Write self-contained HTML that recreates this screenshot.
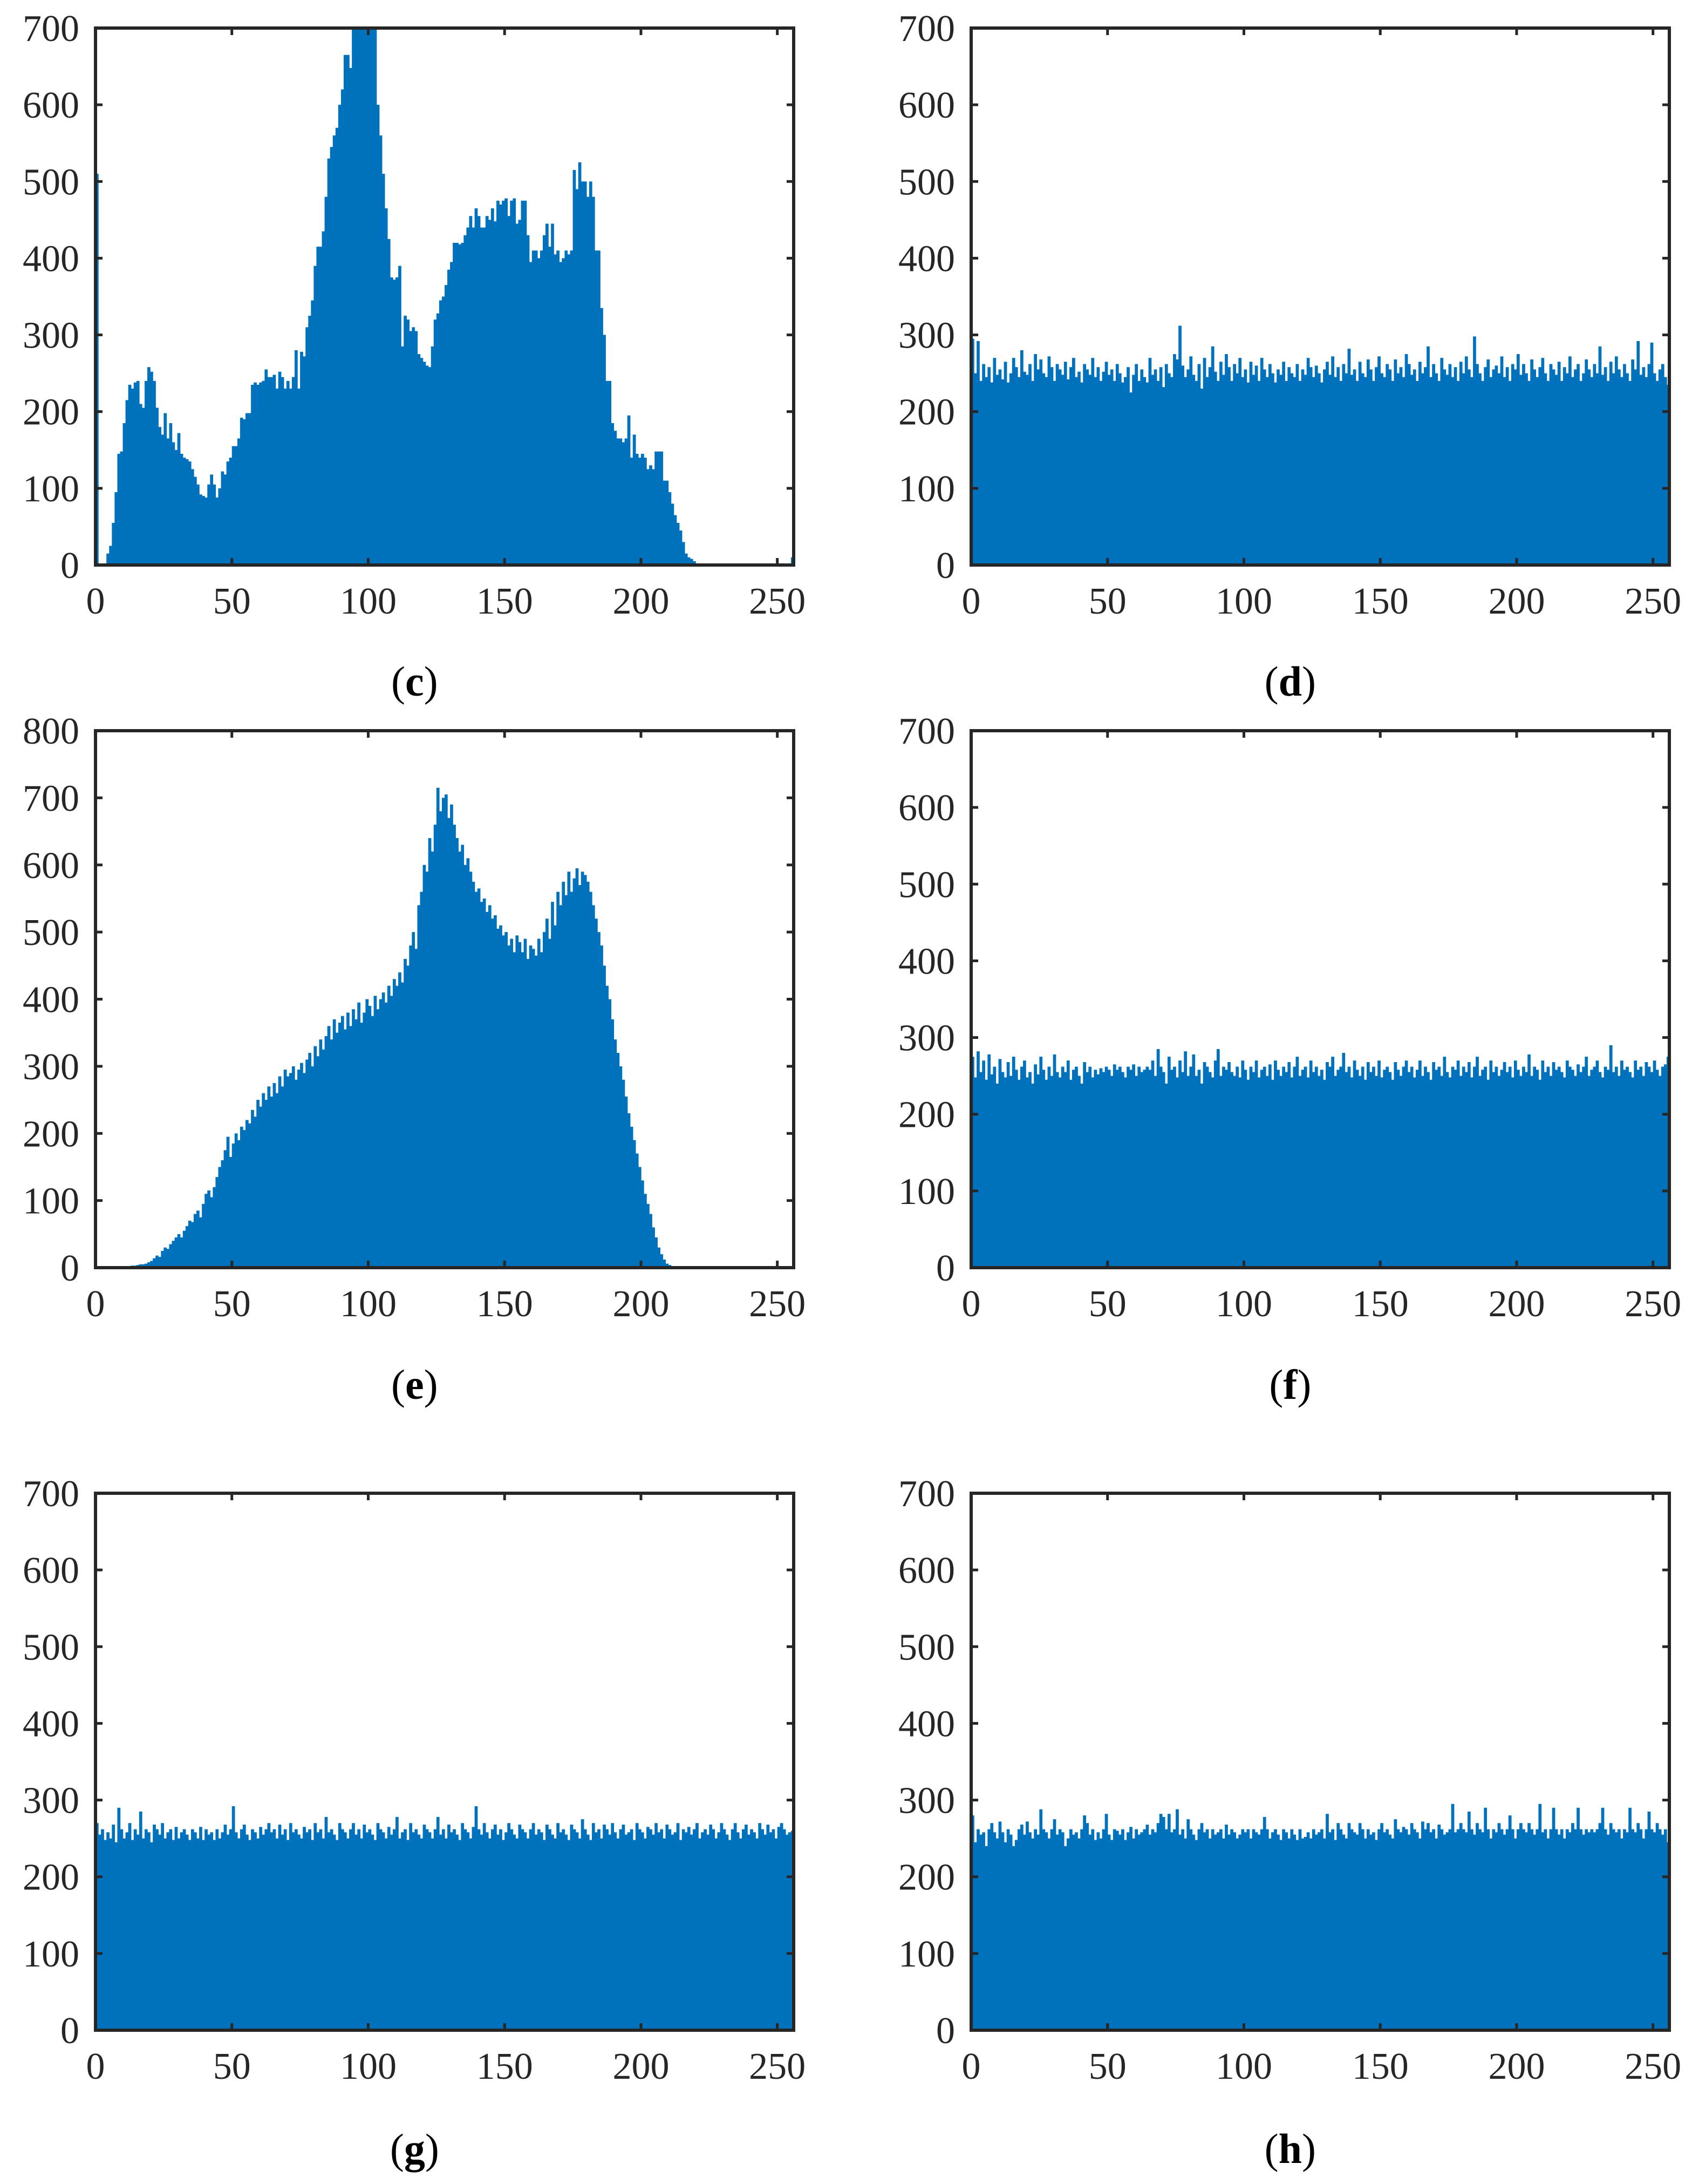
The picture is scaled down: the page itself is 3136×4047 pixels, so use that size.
<!DOCTYPE html>
<html><head><meta charset="utf-8"><style>
html,body{margin:0;padding:0;background:#fff}
svg{display:block}
</style></head><body>
<svg id="fig" width="3136" height="4047" viewBox="0 0 3136 4047" xmlns="http://www.w3.org/2000/svg"></svg>
<script>
const xTicks = [0, 50, 100, 150, 200, 250];
const yTicks700 = [0, 100, 200, 300, 400, 500, 600, 700];
const yTicks800 = [0, 100, 200, 300, 400, 500, 600, 700, 800];
const panelLetters = ["c", "d", "e", "f", "g", "h"];

const countsC = [510,0,0,0,15,25,55,95,145,148,
185,215,235,230,238,240,210,205,240,258,
252,240,205,180,170,198,165,185,160,150,
172,145,140,138,135,125,115,105,92,90,
88,105,118,105,88,100,122,118,135,140,
155,155,165,192,190,198,198,235,238,235,
238,240,255,245,245,248,230,252,245,230,
240,230,245,280,230,278,272,310,325,345,
390,415,415,435,480,530,545,560,570,600,
620,665,665,648,700,700,700,700,700,700,
700,700,700,600,560,510,465,425,375,372,
375,390,285,325,320,305,310,305,275,270,
265,260,258,285,320,328,345,350,365,385,
395,420,420,418,420,430,440,455,440,465,
455,440,440,455,450,465,448,475,470,475,
478,455,475,478,445,450,475,475,430,395,
410,410,400,410,430,445,415,445,405,410,
395,400,410,405,410,515,490,525,500,500,
480,500,480,410,410,335,300,240,240,185,
175,165,165,160,165,195,140,170,145,140,
145,140,125,130,125,148,148,148,110,110,
95,80,65,55,45,30,15,10,8,5,
2,2,2,2,2,2,2,2,2,2,2,2,2,2,2,2,2,2,2,2,
2,2,2,2,2,2,2,2,2,2,2,2,2,2,2,10];

const countsE = [0,0,0,0,0,0,0,0,0,0,
1,2,2,3,3,4,5,5,6,8,
10,14,18,16,25,30,28,35,40,45,
50,45,55,62,70,68,80,85,75,95,
110,115,105,120,135,150,160,175,195,165,
185,200,190,210,205,220,215,235,225,250,
240,260,250,270,255,275,260,285,270,295,
285,290,300,280,295,305,290,310,320,300,
330,315,340,325,345,360,340,370,350,365,
375,355,380,360,385,370,395,365,380,400,
390,375,405,385,400,410,395,420,405,430,
420,440,425,460,450,480,500,475,540,560,
600,590,640,620,660,715,680,700,705,670,
690,660,640,620,630,600,610,590,575,560,
565,545,550,530,540,520,525,505,510,495,
500,480,490,470,495,485,470,490,460,480,
475,465,490,470,500,520,490,545,510,560,
540,575,555,590,560,580,595,570,590,585,
575,560,540,520,500,480,450,420,400,370,
340,320,300,280,255,230,210,190,170,150,
130,110,95,80,60,45,30,20,12,6,
4,2,1,0,0,0,0,0,0,0,
0,0,0,0,0,0,0,0,0,0,0,0,0,0,0,0,0,0,0,0,
0,0,0,0,0,0,0,0,0,0,0,0,0,0,0,0];

const countsD = [295,250,292,240,262,245,258,238,270,248,255,242,265,238,250,270,
258,245,280,252,248,262,240,275,255,268,250,245,272,258,240,262,
255,248,265,242,258,270,245,252,238,262,255,248,270,245,258,240,
252,265,248,255,240,262,250,238,245,258,225,248,262,240,255,245,
238,270,248,255,240,258,232,262,250,245,275,268,312,260,245,255,
272,248,240,262,230,270,245,258,285,252,240,265,248,275,258,240,
262,250,270,245,255,238,265,248,260,240,270,255,245,262,250,238,
255,248,265,240,258,250,245,262,240,255,248,270,258,245,260,250,
238,255,265,248,272,245,258,240,262,250,282,248,255,240,265,250,
245,268,255,240,258,272,250,245,262,255,240,268,250,258,245,275,
262,248,255,240,265,250,258,285,245,262,250,240,270,255,248,262,
245,258,240,265,250,272,255,245,298,262,250,240,258,268,245,255,
260,250,272,245,258,240,262,255,275,248,262,250,240,268,255,245,
258,270,250,240,262,255,248,265,240,258,250,272,245,255,262,240,
250,268,255,245,262,250,285,248,258,240,265,250,272,255,245,262,
250,240,268,255,292,248,258,245,262,290,250,240,255,262,245,235];

const countsF = [275,248,282,255,270,245,278,252,262,240,272,255,248,268,250,275,
258,245,262,270,248,255,240,265,252,275,258,245,262,250,278,255,
248,262,255,270,245,258,262,250,240,268,255,262,248,258,252,260,
255,262,258,250,265,258,262,255,248,262,258,265,250,262,255,258,
262,258,270,250,285,262,255,240,275,258,262,248,270,255,282,250,
262,278,250,258,240,268,262,255,248,270,285,250,262,258,268,255,
250,262,248,270,258,245,262,255,270,248,258,262,250,265,245,270,
258,250,262,255,268,248,262,275,250,258,262,248,270,255,262,250,
258,245,268,262,275,250,258,262,280,255,262,248,270,258,250,262,
245,268,255,262,250,270,248,258,262,255,245,268,258,250,262,270,
255,262,248,258,270,250,262,255,245,268,258,262,250,275,255,248,
262,258,270,250,262,255,268,248,262,275,250,258,262,245,270,255,
262,250,258,268,255,262,248,270,258,250,262,255,278,250,262,258,
245,270,255,262,250,268,258,262,255,248,270,262,258,250,265,255,
262,275,250,258,262,270,255,248,262,258,290,255,262,250,270,258,
262,255,248,270,258,262,250,268,262,255,270,258,250,262,265,275];

const countsG = [270,255,262,248,258,250,268,245,290,262,250,258,270,248,262,255,
285,250,262,258,245,268,262,255,270,250,258,262,248,265,250,258,
262,255,248,262,258,250,265,248,262,255,258,248,262,250,258,268,
255,262,292,258,250,262,268,255,248,262,258,250,265,255,262,270,
258,262,250,268,255,262,248,270,258,262,255,250,265,258,262,248,
270,258,262,250,278,258,262,255,248,270,262,258,250,262,270,255,
262,250,268,258,262,255,248,270,262,258,250,265,255,262,278,250,
258,262,248,270,258,262,255,250,268,262,258,250,262,278,255,262,
250,268,258,262,255,248,270,262,258,250,265,292,262,255,270,258,
250,262,268,255,262,248,258,270,262,255,250,268,262,258,250,262,
270,255,262,258,248,268,262,255,250,270,258,262,255,248,268,262,
258,250,275,262,255,248,270,258,262,250,268,262,255,270,258,250,
262,268,255,258,262,248,270,262,258,250,265,262,255,270,258,262,
250,268,262,255,258,270,248,262,258,265,255,262,270,250,258,262,
255,268,262,250,258,270,262,255,248,262,270,258,250,262,268,255,
262,258,250,270,262,255,268,258,262,250,265,270,262,255,258,260];

const countsH = [280,245,262,255,258,240,262,270,258,250,272,258,245,262,255,240,
248,262,268,255,272,258,250,262,255,288,262,258,250,262,275,255,
262,258,240,250,262,255,258,250,262,280,270,255,262,248,258,250,
262,282,255,248,262,260,255,262,248,258,265,250,262,255,258,262,
268,255,262,258,270,282,278,262,282,258,262,288,255,262,250,275,
262,255,248,262,270,258,262,250,262,255,258,262,250,268,255,262,
258,250,255,262,258,262,250,262,258,255,262,278,262,250,258,262,
255,248,262,258,250,262,255,248,262,250,252,258,250,262,255,258,
262,250,282,258,262,248,270,262,255,250,270,262,258,255,270,262,
250,262,255,258,248,262,270,258,262,255,250,275,262,258,265,262,
255,270,262,258,250,272,262,270,258,262,250,268,262,255,258,262,
295,258,262,270,262,258,285,262,255,270,262,258,290,262,250,262,
258,270,262,255,262,280,262,250,262,270,262,258,270,262,255,262,
295,258,262,250,262,290,262,255,262,250,262,258,270,262,290,262,
255,262,258,262,258,262,270,290,262,255,270,262,258,262,250,262,
258,290,262,258,270,262,250,262,285,262,258,270,262,255,262,245];

const NS = "http://www.w3.org/2000/svg";
const svg = document.getElementById("fig");
function mk(tag, attrs, parent) {
  const e = document.createElementNS(NS, tag);
  for (const k in attrs) e.setAttribute(k, attrs[k]);
  (parent || svg).appendChild(e);
  return e;
}

const colLeft = [177, 1800];
const plotW = 1294;
const rowTop = [52, 1354, 2767];
const plotH = 995;
const labelY = [1263, 2566, 3982];

const panels = [
  {letter: panelLetters[0], data: countsC, yTicks: yTicks700, ymax: 700, col: 0, row: 0},
  {letter: panelLetters[1], data: countsD, yTicks: yTicks700, ymax: 700, col: 1, row: 0},
  {letter: panelLetters[2], data: countsE, yTicks: yTicks800, ymax: 800, col: 0, row: 1},
  {letter: panelLetters[3], data: countsF, yTicks: yTicks700, ymax: 700, col: 1, row: 1},
  {letter: panelLetters[4], data: countsG, yTicks: yTicks700, ymax: 700, col: 0, row: 2},
  {letter: panelLetters[5], data: countsH, yTicks: yTicks700, ymax: 700, col: 1, row: 2}
];

panels.forEach(p => {
  const L = colLeft[p.col], T = rowTop[p.row], R = L + plotW, B = T + plotH;
  const xs = v => L + v / 256 * plotW;
  const ys = v => B - Math.min(v, p.ymax) / p.ymax * plotH;
  const g = mk("g", {});
  
  

  const bars = mk("g", {fill: "#0072BD"}, g);
  
  
  p.data.forEach((v, i) => {
    if (v <= 0) return;
    const x0 = xs(i), x1 = xs(i + 1);
    const r = mk("rect", {x: x0.toFixed(2), y: ys(v).toFixed(2), width: (x1 - x0 + 0.7).toFixed(2), height: (B - ys(v)).toFixed(2)}, bars);
    
    
  });

  const tl = 13;
  const ticks = mk("g", {stroke: "#262626", "stroke-width": 5}, g);
  
  
  xTicks.forEach(t => {
    const x = xs(t);
    mk("line", {x1: x, y1: B, x2: x, y2: B - tl}, ticks);
    mk("line", {x1: x, y1: T, x2: x, y2: T + tl}, ticks);
    const tx = mk("text", {x: x, y: B + 90, "text-anchor": "middle", "font-family": "Liberation Serif, serif", "font-size": 70, fill: "#262626", stroke: "none"}, g);
    tx.textContent = t;
    
    
  });
  p.yTicks.forEach(t => {
    const y = ys(t);
    mk("line", {x1: L, y1: y, x2: L + tl, y2: y}, ticks);
    mk("line", {x1: R, y1: y, x2: R - tl, y2: y}, ticks);
    const ty = mk("text", {x: L - 30, y: y + 24, "text-anchor": "end", "font-family": "Liberation Serif, serif", "font-size": 70, fill: "#262626"}, g);
    ty.textContent = t;
    
    
  });

  const box = mk("rect", {x: L, y: T, width: plotW, height: plotH, fill: "none", stroke: "#262626", "stroke-width": 6}, g);
  
  

  const lab = mk("text", {x: L + plotW * 0.457, y: labelY[p.row] + 26, "text-anchor": "middle", "font-family": "Liberation Serif, serif", "font-size": 78, fill: "#000"}, g);
  
  
  const s1 = mk("tspan", {}, lab); s1.textContent = "(";
  const s2 = mk("tspan", {"font-weight": "bold"}, lab); s2.textContent = p.letter;
  const s3 = mk("tspan", {}, lab); s3.textContent = ")";
});
</script>
</body></html>
